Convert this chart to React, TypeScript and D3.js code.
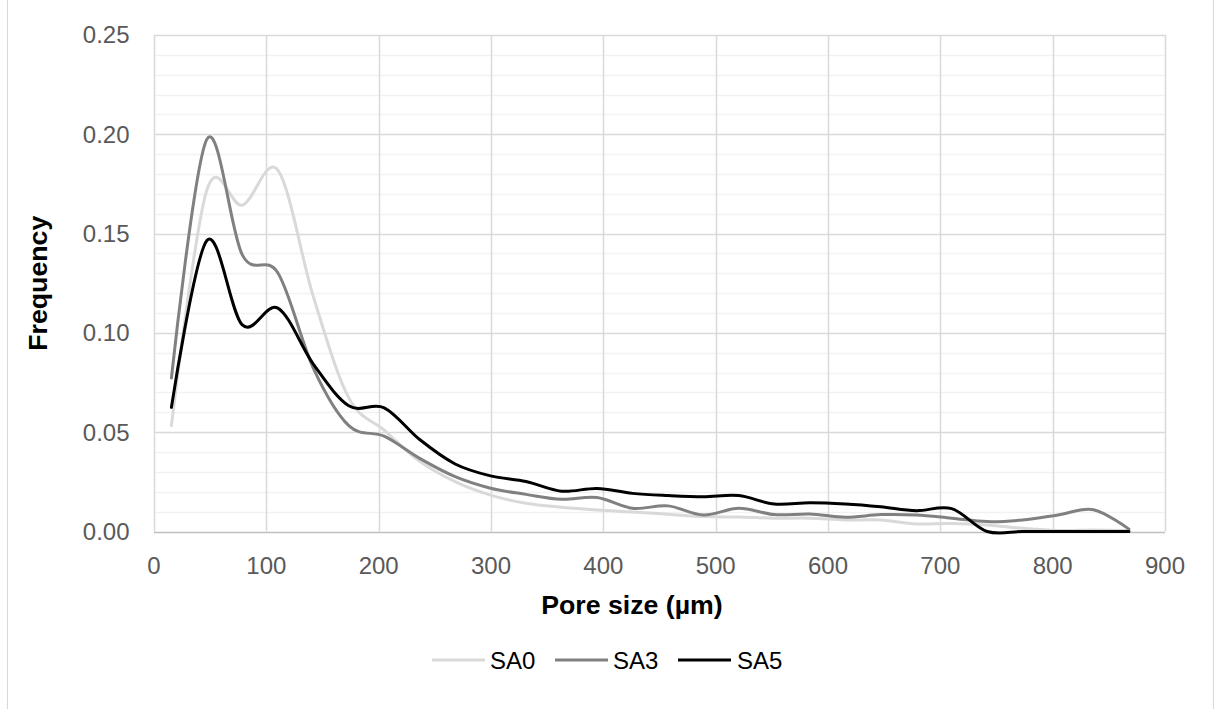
import React from "react";
import * as d3 from "d3";

const poreSize = [15.5, 47.1, 78.6, 110.2, 141.8, 173.4, 204.9, 236.5, 268.1, 299.6, 331.2, 362.8, 394.4, 425.9, 457.5, 489.1, 520.6, 552.2, 583.8, 615.4, 646.9, 678.5, 710.1, 741.6, 773.2, 804.8, 836.3, 867.9];

const sa0 = [0.0533, 0.172, 0.1643, 0.182, 0.1183, 0.0673, 0.051, 0.0353, 0.0251, 0.0183, 0.0142, 0.0122, 0.0108, 0.0098, 0.0087, 0.0075, 0.0073, 0.0067, 0.0067, 0.0058, 0.0058, 0.0038, 0.004, 0.0033, 0.0016, 0.0005, 0.0008, 0.0005];
const sa3 = [0.0773, 0.1975, 0.1393, 0.1303, 0.0823, 0.0533, 0.048, 0.0368, 0.0276, 0.0218, 0.0187, 0.0162, 0.0171, 0.0117, 0.0129, 0.0083, 0.0117, 0.0085, 0.0088, 0.0072, 0.0085, 0.0083, 0.0067, 0.005, 0.0058, 0.0083, 0.011, 0.0012];
const sa5 = [0.0625, 0.1465, 0.104, 0.1125, 0.0843, 0.0633, 0.0623, 0.0463, 0.034, 0.028, 0.0252, 0.0203, 0.0217, 0.0192, 0.0181, 0.0175, 0.0181, 0.0138, 0.0145, 0.0139, 0.0125, 0.0105, 0.0115, 0.0, 0.0, 0.0, 0.0, 0.0];

const seriesNames = ["SA0", "SA3", "SA5"];
const seriesColors = ["#d9d9d9", "#808080", "#000000"];
const seriesData = [sa0, sa3, sa5];

const xTicks = [0, 100, 200, 300, 400, 500, 600, 700, 800, 900];
const yTicks = [0, 0.05, 0.1, 0.15, 0.2, 0.25];
const yMinorTicks = d3.range(1, 25).map((i) => i / 100).filter((v) => Math.round(v * 100) % 5 !== 0);

const FONT = "'Liberation Sans', Arial, sans-serif";

export default function App() {
  const x = d3.scaleLinear().domain([0, 900]).range([154, 1165]);
  const y = d3.scaleLinear().domain([0, 0.25]).range([531.5, 35]);
  const line = d3
    .line<[number, number]>()
    .x((d) => x(d[0]))
    .y((d) => y(d[1]))
    .curve(d3.curveCatmullRom.alpha(0));

  const legendItems = [
    { lx: 432, tx: 490 },
    { lx: 555, tx: 613 },
    { lx: 678, tx: 737 },
  ];

  return (
    <svg
      width={1222}
      height={709}
      style={{ position: "absolute", left: 0, top: 0, display: "block" }}
      fontFamily={FONT}
    >
      <rect x={0} y={0} width={1222} height={709} fill="#fff" />
      <line x1={7.5} x2={7.5} y1={0} y2={709} stroke="#d9d9d9" strokeWidth={1} />
      <line x1={1213.5} x2={1213.5} y1={0} y2={709} stroke="#d9d9d9" strokeWidth={1} />
      {yMinorTicks.map((v) => (
        <line key={"m" + v} x1={x(0)} x2={x(900)} y1={Math.round(y(v)) + 0.5} y2={Math.round(y(v)) + 0.5} stroke="#f2f2f2" strokeWidth={1.5} />
      ))}
      {xTicks.map((v) => (
        <line key={"vx" + v} x1={Math.round(x(v)) + 0.5} x2={Math.round(x(v)) + 0.5} y1={y(0.25)} y2={y(0)} stroke="#d9d9d9" strokeWidth={1.5} />
      ))}
      {yTicks.map((v) => (
        <line key={"gy" + v} x1={x(0)} x2={x(900)} y1={Math.round(y(v)) + 0.5} y2={Math.round(y(v)) + 0.5} stroke={v === 0 ? "#bfbfbf" : "#d9d9d9"} strokeWidth={1.5} />
      ))}
      {yTicks.map((v) => (
        <text key={"ty" + v} x={129.5} y={y(v)} dy="0.35em" textAnchor="end" fontSize={24} fill="#595959">
          {v.toFixed(2)}
        </text>
      ))}
      {xTicks.map((v) => (
        <text key={"tx" + v} x={x(v)} y={573.5} textAnchor="middle" fontSize={24} fill="#595959">
          {v}
        </text>
      ))}
      {seriesData.map((data, i) => (
        <path
          key={seriesNames[i]}
          d={line(poreSize.map((p, j) => [p, data[j]] as [number, number])) || ""}
          fill="none"
          stroke={seriesColors[i]}
          strokeWidth={3}
          strokeLinejoin="round"
          strokeLinecap="round"
        />
      ))}
      <text x={632} y={614} textAnchor="middle" fontSize={26.7} fontWeight="bold" fill="#000">
        Pore size (µm)
      </text>
      <text transform={`translate(47,${(y(0) + y(0.25)) / 2}) rotate(-90)`} textAnchor="middle" fontSize={26.7} fontWeight="bold" fill="#000">
        Frequency
      </text>
      {legendItems.map((it, i) => (
        <g key={"lg" + i}>
          <line x1={it.lx} x2={it.lx + 53} y1={660} y2={660} stroke={seriesColors[i]} strokeWidth={3} />
          <text x={it.tx} y={668.5} fontSize={24} fill="#000">
            {seriesNames[i]}
          </text>
        </g>
      ))}
    </svg>
  );
}
